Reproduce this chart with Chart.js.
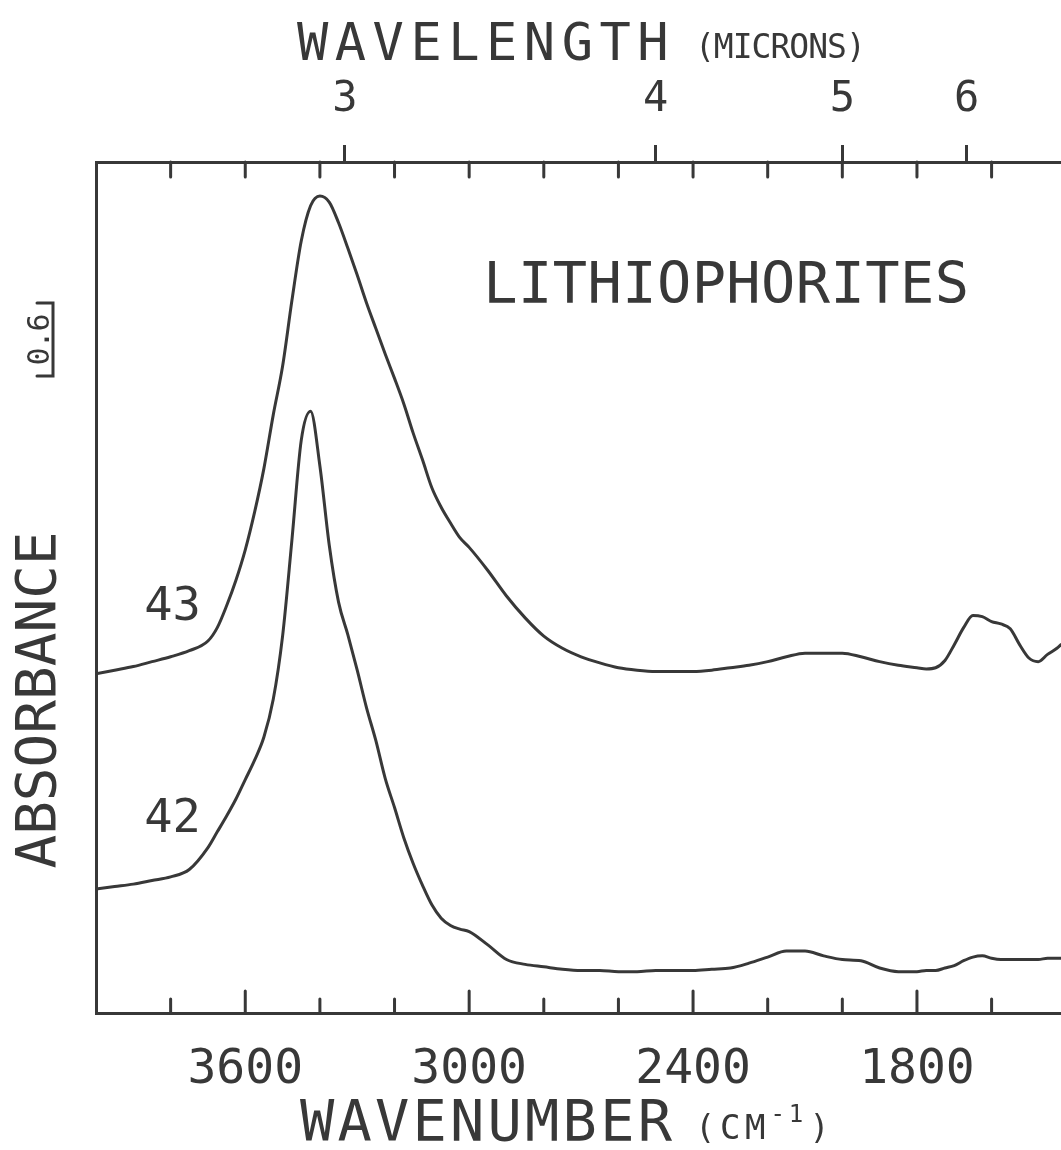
<!DOCTYPE html>
<html>
<head>
<meta charset="utf-8">
<title>Lithiophorites IR spectra</title>
<script src="https://cdn.jsdelivr.net/npm/chart.js@4.4.1/dist/chart.umd.min.js"></script>
<style>
  html, body { margin: 0; padding: 0; background: #fff; }
  canvas { display: block; }
</style>
</head>
<body>
<canvas id="spectra" width="1061" height="1150"></canvas>
<script>
// Wavenumber samples (cm-1), shared by both traces
const wavenumbers = [
  4000, 3950, 3900, 3850, 3800, 3750, 3700, 3675, 3650, 3625,
  3600, 3575, 3550, 3525, 3500, 3475, 3450, 3425, 3400, 3375,
  3350, 3325, 3300, 3275, 3250, 3225, 3200, 3175, 3150, 3125,
  3100, 3075, 3050, 3025, 3000, 2950, 2900, 2850, 2800, 2750,
  2700, 2650, 2600, 2550, 2500, 2450, 2400, 2350, 2300, 2250,
  2200, 2150, 2100, 2050, 2000, 1950, 1900, 1850, 1800, 1775,
  1750, 1725, 1700, 1675, 1650, 1625, 1600, 1575, 1550, 1525,
  1500, 1475, 1450, 1425, 1414
];

// Sample 43 (offset absorbance)
const sample43 = [
  2.79, 2.82, 2.85, 2.89, 2.93, 2.98, 3.06, 3.17, 3.35, 3.56,
  3.81, 4.12, 4.48, 4.92, 5.32, 5.86, 6.35, 6.64, 6.72, 6.67,
  6.50, 6.29, 6.07, 5.84, 5.63, 5.42, 5.22, 5.01, 4.77, 4.55,
  4.32, 4.16, 4.03, 3.91, 3.83, 3.64, 3.43, 3.25, 3.10, 3.00,
  2.93, 2.88, 2.84, 2.82, 2.81, 2.81, 2.81, 2.82, 2.84, 2.86,
  2.89, 2.93, 2.96, 2.96, 2.96, 2.93, 2.89, 2.86, 2.84, 2.83,
  2.84, 2.90, 3.03, 3.17, 3.27, 3.26, 3.22, 3.20, 3.16, 3.03,
  2.92, 2.89, 2.95, 3.00, 3.03
];

// Sample 42 (offset absorbance)
const sample42 = [
  1.02, 1.04, 1.06, 1.09, 1.12, 1.18, 1.36, 1.49, 1.62, 1.76,
  1.92, 2.08, 2.27, 2.58, 3.10, 3.89, 4.71, 4.95, 4.50, 3.85,
  3.38, 3.11, 2.82, 2.51, 2.24, 1.93, 1.69, 1.44, 1.23, 1.05,
  0.89, 0.78, 0.72, 0.69, 0.67, 0.56, 0.44, 0.40, 0.38, 0.36,
  0.35, 0.35, 0.34, 0.34, 0.35, 0.35, 0.35, 0.36, 0.37, 0.41,
  0.46, 0.51, 0.51, 0.47, 0.44, 0.43, 0.37, 0.34, 0.34, 0.35,
  0.35, 0.37, 0.39, 0.43, 0.46, 0.47, 0.45, 0.44, 0.44, 0.44,
  0.44, 0.44, 0.45, 0.45, 0.45
];

// Axis ticks
const wnTicks = [3800, 3600, 3400, 3200, 3000, 2800, 2600, 2400, 2200, 2000, 1800, 1600];
const wnLabelTicks = [3600, 3000, 2400, 1800];
const micronTicks = [3, 4, 5, 6];

// Trace labels and annotations (placed in data units)
const traceNames = ['43', '42'];
const traceLabelWn = 3795;
const traceLabelAbs = [3.33, 1.59];
const plotTitle = 'LITHIOPHORITES';
const plotTitleWn = 2962;
const plotTitleAbs = 5.84;
const scaleBarValue = 0.6;
const scaleBarTop = 5.84;

const INK = '#383838';
const MONO = '"DejaVu Sans Mono", "Liberation Mono", monospace';

function spacedText(ctx, text, x, y, size, spacing, align) {
  ctx.font = size + 'px ' + MONO;
  ctx.letterSpacing = spacing + 'px';
  const w = ctx.measureText(text).width - spacing;
  let sx = x;
  if (align === 'center') sx = x - w / 2;
  else if (align === 'right') sx = x - w;
  ctx.textAlign = 'left';
  ctx.fillText(text, sx, y);
  ctx.letterSpacing = '0px';
  return w;
}

const decorations = {
  id: 'decorations',
  beforeDraw(chart) {
    const ctx = chart.ctx;
    ctx.save();
    ctx.fillStyle = '#fff';
    ctx.fillRect(0, 0, chart.width, chart.height);
    ctx.restore();
  },
  afterDraw(chart) {
    const { ctx, chartArea: a, scales: { x, y } } = chart;
    ctx.save();
    ctx.strokeStyle = INK;
    ctx.fillStyle = INK;
    ctx.lineWidth = 3;
    ctx.lineCap = 'round';

    // inward wavenumber ticks on the bottom and top frame lines
    for (const v of wnTicks) {
      const px = x.getPixelForValue(v);
      const major = wnLabelTicks.includes(v);
      ctx.beginPath();
      ctx.moveTo(px, a.bottom);
      ctx.lineTo(px, a.bottom - (major ? 22 : 14));
      ctx.moveTo(px, a.top);
      ctx.lineTo(px, a.top + 15);
      ctx.stroke();
    }

    // trace numbers
    ctx.textBaseline = 'middle';
    traceNames.forEach((name, i) => {
      spacedText(ctx, name, x.getPixelForValue(traceLabelWn), y.getPixelForValue(traceLabelAbs[i]), 47, 0, 'center');
    });

    // plot title
    ctx.textBaseline = 'alphabetic';
    spacedText(ctx, plotTitle, x.getPixelForValue(plotTitleWn), y.getPixelForValue(plotTitleAbs), 57, 0.4, 'left');

    // wavelength axis title
    spacedText(ctx, 'WAVELENGTH', 297, 60, 52, 6.5, 'left');
    spacedText(ctx, '(MICRONS)', 695, 58, 33, -1, 'left');

    // wavenumber axis title with superscript
    spacedText(ctx, 'WAVENUMBER', 300, 1141, 57, 3.2, 'left');
    let cx = 695;
    cx += spacedText(ctx, '(CM', cx, 1139, 34, 4.5, 'left') + 5;
    cx += spacedText(ctx, '-1', cx, 1122, 24, 4, 'left') + 6;
    spacedText(ctx, ')', cx, 1139, 34, 0, 'left');

    // absorbance title and 0.6 scale bar
    ctx.save();
    ctx.translate(55, 700);
    ctx.rotate(-Math.PI / 2);
    spacedText(ctx, 'ABSORBANCE', 0, 0, 56, 0, 'center');
    ctx.restore();

    const yTop = y.getPixelForValue(scaleBarTop);
    const yBot = y.getPixelForValue(scaleBarTop - scaleBarValue);
    const bx = 53;
    ctx.lineWidth = 3;
    ctx.beginPath();
    ctx.moveTo(bx - 16, yTop);
    ctx.lineTo(bx, yTop);
    ctx.lineTo(bx, yBot);
    ctx.lineTo(bx - 16, yBot);
    ctx.stroke();
    ctx.save();
    ctx.translate(bx - 4, (yTop + yBot) / 2);
    ctx.rotate(-Math.PI / 2);
    spacedText(ctx, scaleBarValue.toFixed(1), 0, 0, 30, -1, 'center');
    ctx.restore();

    ctx.restore();
  }
};

const toPoints = (vals) => wavenumbers.map((w, i) => ({ x: w, y: vals[i] }));

const traceStyle = {
  borderColor: INK,
  borderWidth: 3,
  pointRadius: 0,
  fill: false,
  cubicInterpolationMode: 'monotone',
  borderCapStyle: 'round',
  borderJoinStyle: 'round'
};

new Chart(document.getElementById('spectra'), {
  type: 'line',
  data: {
    datasets: [
      Object.assign({ label: traceNames[0], data: toPoints(sample43) }, traceStyle),
      Object.assign({ label: traceNames[1], data: toPoints(sample42) }, traceStyle)
    ]
  },
  options: {
    responsive: false,
    animation: false,
    devicePixelRatio: 1,
    layout: { padding: 0 },
    plugins: { legend: { display: false }, tooltip: { enabled: false } },
    scales: {
      x: {
        type: 'linear',
        position: 'bottom',
        reverse: true,
        min: 1414,
        max: 4000,
        afterBuildTicks: (s) => { s.ticks = wnLabelTicks.map(v => ({ value: v })); },
        afterFit: (s) => { s.height = 137; },
        grid: { display: false, drawTicks: false },
        border: { display: true, color: INK, width: 3 },
        ticks: {
          color: INK,
          padding: 29,
          maxRotation: 0,
          autoSkip: false,
          font: { family: 'DejaVu Sans Mono', size: 48 },
          callback: (v) => String(v)
        }
      },
      x2: {
        type: 'linear',
        position: 'top',
        reverse: true,
        min: 1414,
        max: 4000,
        afterBuildTicks: (s) => { s.ticks = micronTicks.map(m => ({ value: 10000 / m })); },
        afterFit: (s) => { s.height = 162; },
        grid: { display: true, drawOnChartArea: false, drawTicks: true, tickLength: 17, lineWidth: 3, color: INK },
        border: { display: true, color: INK, width: 3 },
        ticks: {
          color: INK,
          padding: 20,
          maxRotation: 0,
          autoSkip: false,
          font: { family: 'DejaVu Sans Mono', size: 42 },
          callback: (v) => String(Math.round(10000 / v))
        }
      },
      y: {
        type: 'linear',
        position: 'left',
        min: 0,
        max: 7,
        afterFit: (s) => { s.width = 96; },
        grid: { display: false, drawTicks: false },
        border: { display: true, color: INK, width: 3 },
        ticks: { display: false }
      }
    }
  },
  plugins: [decorations]
});
</script>
</body>
</html>
